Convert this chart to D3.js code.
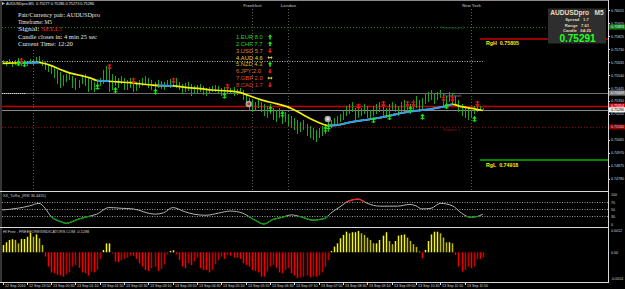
<!DOCTYPE html>
<html><head><meta charset="utf-8">
<script src="https://cdn.jsdelivr.net/npm/d3@7"></script>
<style>body{margin:0;background:#000}svg{display:block}</style>
</head><body>
<script>
// ---------------- DATA ----------------
const symbolTitle = "AUDUSDpro,M5  0.75277 0.75286 0.75273 0.75286";
const timeLabels = ["12 Sep 2016","12 Sep 23:50","13 Sep 00:30","13 Sep 01:10","13 Sep 01:50","13 Sep 02:30","13 Sep 03:10","13 Sep 03:50","13 Sep 04:30","13 Sep 05:10","13 Sep 05:50","13 Sep 06:30","13 Sep 07:10","13 Sep 07:50","13 Sep 08:30","13 Sep 09:10","13 Sep 09:50","13 Sep 10:30","13 Sep 11:10","13 Sep 11:50"];
const barsPerLabel = 8;
const priceTicks = [0.76015,0.75920,0.75825,0.75730,0.75635,0.75540,0.75445,0.75350,0.75255,0.75160,0.75065,0.74970,0.74875,0.74780];
const barHigh = [0.75651,0.75644,0.75658,0.75636,0.75651,0.75666,0.75644,0.75651,0.75636,0.75658,0.75651,
0.75673,0.75680,
0.75651,0.75636,0.75622,0.75607,0.75592,0.75578,0.75563,0.75541,0.75548,0.75563,0.75534,0.75519,0.75505,0.75534,0.75548,0.75519,0.75505,0.75490,
0.75505,0.75519,0.75578,0.75607,0.75592,0.75548,0.75534,0.75519,0.75534,0.75519,
0.75505,0.75519,0.75512,0.75490,0.75505,0.75519,0.75534,0.75519,0.75505,0.75490,0.75505,0.75497,0.75490,0.75505,0.75512,
0.75505,0.75519,0.75490,0.75475,0.75483,0.75490,0.75475,0.75461,0.75468,0.75475,0.75461,0.75446,0.75453,0.75461,0.75468,0.75461,0.75446,0.75453,0.75461,0.75446,0.75453,0.75439,0.75446,
0.75431,0.75402,0.75373,0.75358,0.75343,0.75358,0.75343,
0.75329,0.75314,0.75329,0.75299,0.75285,0.75299,0.75285,0.75270,0.75255,0.75241,0.75226,0.75211,0.75197,0.75211,0.75182,
0.75167,0.75153,0.75138,0.75153,0.75167,0.75182,0.75197,0.75211,
0.75226,0.75241,0.75255,0.75285,0.75314,0.75329,0.75343,
0.75299,0.75314,0.75299,0.75329,0.75314,0.75285,0.75314,0.75329,0.75343,0.75314,0.75299,0.75329,0.75343,0.75329,0.75314,0.75343,0.75358,0.75343,0.75329,0.75358,
0.75387,0.75358,0.75373,0.75402,0.75417,0.75431,0.75402,0.75417,0.75431,0.75402,0.75387,0.75417,0.75402,0.75387,0.75358,
0.75329,0.75314,0.75299,0.75285,0.75314,0.75329,0.75314,0.75299];
const barLow = [0.75622,0.75607,0.75629,0.75600,0.75614,0.75622,0.75607,0.75629,0.75607,0.75622,0.75614,
0.75636,0.75644,
0.75607,0.75578,0.75563,0.75548,0.75519,0.75475,0.75446,0.75461,0.75490,0.75505,0.75446,0.75431,0.75446,0.75475,0.75461,0.75417,0.75431,0.75417,
0.75446,0.75461,0.75475,0.75505,0.75417,0.75431,0.75461,0.75446,0.75475,0.75431,
0.75431,0.75446,0.75417,0.75424,0.75446,0.75461,0.75475,0.75446,0.75431,0.75417,0.75446,0.75439,0.75431,0.75453,0.75446,
0.75461,0.75446,0.75431,0.75402,0.75417,0.75424,0.75387,0.75402,0.75409,0.75417,0.75395,0.75387,0.75402,0.75417,0.75417,0.75402,0.75387,0.75395,0.75409,0.75402,0.75387,0.75395,0.75402,
0.75358,0.75329,0.75285,0.75270,0.75285,0.75299,0.75270,
0.75241,0.75226,0.75255,0.75211,0.75197,0.75226,0.75182,0.75197,0.75167,0.75153,0.75138,0.75109,0.75123,0.75138,0.75094,
0.75079,0.75065,0.75050,0.75079,0.75094,0.75109,0.75123,0.75153,
0.75167,0.75182,0.75197,0.75211,0.75241,0.75255,0.75270,
0.75211,0.75226,0.75241,0.75255,0.75226,0.75211,0.75241,0.75255,0.75270,0.75241,0.75226,0.75255,0.75285,0.75270,0.75241,0.75270,0.75285,0.75270,0.75255,0.75285,
0.75299,0.75270,0.75285,0.75329,0.75343,0.75358,0.75329,0.75358,0.75373,0.75314,0.75299,0.75343,0.75329,0.75314,0.75270,
0.75241,0.75226,0.75211,0.75226,0.75255,0.75270,0.75285,0.75277];
// moving average samples [bar, price]
const maBars   = [0,6,12,13,16,19,22,26,29,31,34,38,42,45,49,52,56,61,65,69,74,78,81,86,90,95,99,104,107,110,114,119,123,128,132,136,141,146,148,151,155,157,158];
const maValues = [0.75627,0.75631,0.75633,0.75629,0.75610,0.75581,0.75557,0.75536,0.75518,0.75501,0.75497,0.75490,0.75485,0.75477,0.75468,0.75463,0.75461,0.75448,0.75441,0.75431,0.75424,0.75414,0.75391,0.75353,0.75331,0.75296,0.75248,0.75193,0.75170,0.75173,0.75193,0.75211,0.75224,0.75246,0.75265,0.75279,0.75292,0.75314,0.75326,0.75309,0.75294,0.75285,0.75281];
const maRisingRanges = [[5,12],[31,35],[51,56],[107,148]];
// signal arrows [bar, price]
const sellArrows = [[6,0.75644],[35,0.75600],[43,0.75499],[56,0.75499],[74,0.75455],[117,0.75309],[125,0.75329],[133,0.75329],[135,0.75329],[145,0.75365],[148,0.75365],[156,0.75329]];
const buyArrows  = [[5,0.75629],[7,0.75622],[31,0.75455],[37,0.75431],[50,0.75419],[73,0.75390],[88,0.75292],[92,0.75255],[106,0.75145],[107,0.75162],[122,0.75211],[127,0.75233],[134,0.75292],[138,0.75236],[146,0.75314],[155,0.75219]];
const signalCircles = [[81,0.75329],[107,0.75219]];
// horizontal levels
const resistance1 = 0.75893, pivotLevel = 0.75409, redLevel = 0.75314, bidPrice = 0.75286, support1 = 0.75160, prevHigh = 0.75644;
const rangeHigh = 0.75805, rangeLow = 0.74918;
// sessions
const sessionBars = [10,82,94,154];
const sessionNames = ["","Frankfurt","London","New York"];
// info panel
const infoLines = ["Pair/Currency pair: AUDUSDpro","Timeframe: M5","Signal: ","Candle closes in: 4 min 25 sec","Current Time: 12:20"];
const infoWidths = [82,34,44,79,55];
const currencies = ["EUR","CHF","USD","AUD","NZD","JPY","GBP","CAD"];
const strength   = [8.0,7.7,5.7,4.6,4.3,2.0,2.0,1.7];
const direction  = ["up","up","down","flat","up","down","flat","down"];
const currColors = ["#22d622","#22d622","#d9884a","#e8d23a","#cdbb22","#e0662a","#e0502a","#e03a2a"];
const boxTitle = "AUDUSDpro   M5", boxSpread = "1.7", boxRange = "7.61", boxCandle = "04:25", boxPrice = "0.75291";
// RSI
const rsiLabel = "XX_TuRsi_(RSI 36.4455)";
const rsiBars   = [0,5,9,12,14,16,19,21,25,28,31,35,39,43,50,53,56,60,63,67,71,75,79,83,86,89,92,95,98,102,106,108,111,114,117,120,124,130,134,136,138,141,144,148,151,154,157,158];
const rsiValues = [48,53,60,67,53,29,15,10,22,29,36,55,53,51,36,40,55,43,36,33,39,45,39,19,8,21,27,34,29,19,24,39,57,74,79,67,59,59,64,60,51,53,67,60,39,27,32,36];
const rsiLevels = [70,50,30];
const rsiTickLabels = ["100","70","50","30","0"];
const rsiTickValues = [100,70,50,30,0];
// histogram (units of 0.00001)
const histLabel = "HI Free - FREEFOREXINDICATORS.COM -0.1288";
const histValues = [41,56,69,73,69,50,74,74,87,110,87,100,78,41,
-24,-80,-112,-117,-126,-130,-136,-123,-112,-80,-71,-86,-112,-117,-130,-108,-112,-99,-37,
13,50,50,-6,
-52,-56,-43,-37,-30,-19,-19,-37,-61,-80,-99,-104,-89,-80,-104,-93,-67,
-11,7,11,
-11,-43,-80,-89,-61,-71,-52,-30,-89,-99,-99,-112,
-99,-67,-43,-24,-37,-15,-19,-30,-30,-37,-61,-71,-80,-99,-104,-112,-136,-136,-108,-80,-71,-86,-112,-117,-99,-89,-117,-130,-145,-141,-136,-130,-141,-136,-136,-130,-112,-80,-43,
7,32,50,78,97,115,106,112,112,119,106,97,82,69,50,50,69,93,112,63,45,63,93,97,100,82,63,45,30,5,
-33,
13,63,100,115,115,106,82,56,56,50,
-15,-80,-108,-99,-80,-89,-80,-37,-37,-30];
const histTickValues = [120,0,-145];
const histTickLabels = ["0.0012","0.00","-0.0014"];

// ---------------- DRAW ----------------
const W=625,H=289, AX=608;
const svg = d3.select("body").append("svg").attr("width",W).attr("height",H)
  .style("font-family","'Liberation Sans',Arial,sans-serif");
svg.append("rect").attr("width",W).attr("height",H).attr("fill","#000");

const nBars = barHigh.length;
const x = d3.scaleLinear().domain([0,nBars-1]).range([2.5, 2.5+(nBars-1)*3.04]);
const yP = d3.scaleLinear().domain([rangeLow, rangeHigh]).range([160, 39]);
const yR = d3.scaleLinear().domain([0,100]).range([226.8,191.8]);
const yH = d3.scaleLinear().domain([0,120]).range([252.3,230.8]);

const main = svg.append("g");
function hline(g,y,x1,x2,color,w,dash){
  g.append("line").attr("x1",x1).attr("x2",x2).attr("y1",y).attr("y2",y)
   .attr("stroke",color).attr("stroke-width",w||1).attr("stroke-dasharray",dash||null);
}
// session separators
sessionBars.forEach((b,i)=>{
  const xx=Math.round(x(b))+0.5;
  main.append("line").attr("x1",xx).attr("x2",xx).attr("y1",i===0?50:9).attr("y2",190)
    .attr("stroke","#5a5a5a").attr("stroke-dasharray","1,2");
  if(sessionNames[i]) main.append("text").attr("x",xx).attr("y",6.5).attr("text-anchor","middle")
    .attr("font-size",4.2).attr("font-weight","bold").attr("fill","#9a9a9a").text(sessionNames[i]);
});
// levels
hline(main, yP(resistance1)+0.5, 2, AX, "#1f7a1f",1,"1,2");
hline(main, Math.round(yP(prevHigh))+0.5, 2, x(nBars-1), "#b8b8b8",1,"1,1.5");
hline(main, Math.round(yP(pivotLevel))+0.5, 2, AX, "#6e6e6e",1);
hline(main, Math.round(yP(pivotLevel))+0.5, 2, 25, "#e0e0e0",1,"1,1");
hline(main, Math.round(yP(redLevel))+0.5, 2, AX, "#c00000",1.3);
hline(main, Math.round(yP(bidPrice))+0.5, 2, AX, "#8c8c8c",1);
hline(main, Math.round(yP(support1))+0.5, 2, AX, "#8a0000",1,"1,2");
hline(main, yP(rangeHigh), x(nBars-2), AX, "#cc0000",1.5);
hline(main, yP(rangeLow), x(nBars-2), AX, "#00b000",1.5);
main.append("text").attr("x",441).attr("y",yP(resistance1)+2.5).attr("font-size",4).attr("fill","#1d6a1d").text("Resistance 1");
main.append("text").attr("x",443).attr("y",yP(pivotLevel)+4).attr("font-size",4).attr("fill","#8a8a8a").text("Pivot level");
main.append("text").attr("x",443).attr("y",yP(support1)+4).attr("font-size",4).attr("fill","#8a1010").text("Support 1");
main.append("text").attr("x",486).attr("y",yP(rangeHigh)+5.5).attr("font-size",5.3).attr("font-weight","bold").attr("fill","#f0f000").attr("xml:space","preserve").text("RgH  "+rangeHigh.toFixed(5));
main.append("text").attr("x",486).attr("y",yP(rangeLow)+6.5).attr("font-size",5.3).attr("font-weight","bold").attr("fill","#f0f000").attr("xml:space","preserve").text("RgL  "+rangeLow.toFixed(5));

// bars
main.append("g").selectAll("line").data(d3.range(nBars)).join("line")
  .attr("x1",i=>Math.round(x(i))+0.5).attr("x2",i=>Math.round(x(i))+0.5)
  .attr("y1",i=>yP(barHigh[i])).attr("y2",i=>yP(barLow[i]))
  .attr("stroke","#19a819").attr("stroke-width",1);

// MA line coloured
const maPts = maBars.map((b,i)=>[b,maValues[i]]);
const lineMA = d3.line().x(d=>x(d[0])).y(d=>yP(d[1])).curve(d3.curveMonotoneX);
const defs = svg.append("defs");
maRisingRanges.forEach((r,k)=>{
  defs.append("clipPath").attr("id","up"+k).append("rect").attr("x",x(r[0])).attr("y",0).attr("width",x(r[1])-x(r[0])).attr("height",190);
});
main.append("path").attr("d",lineMA(maPts)).attr("fill","none").attr("stroke","#f2f200").attr("stroke-width",1.7);
maRisingRanges.forEach((r,k)=>{
  main.append("path").attr("d",lineMA(maPts)).attr("fill","none").attr("stroke","#2d9cf0").attr("stroke-width",1.9).attr("clip-path","url(#up"+k+")");
});

// arrows
function arrow(g,cx,cy,dir,color){
  const s = dir==="down"?1:-1;
  g.append("path").attr("d",`M${cx},${cy-3*s}L${cx},${cy+1*s}`).attr("stroke",color).attr("stroke-width",1.3);
  g.append("path").attr("d",`M${cx-2.3},${cy+0.3*s}L${cx+2.3},${cy+0.3*s}L${cx},${cy+3.2*s}Z`).attr("fill",color);
  g.append("path").attr("d",`M${cx-2},${cy-1.8*s}L${cx+2},${cy-1.8*s}`).attr("stroke",color).attr("stroke-width",1);
}
sellArrows.forEach(d=>arrow(main,Math.round(x(d[0]))+0.5,yP(d[1]),"down","#e81818"));
buyArrows.forEach(d=>arrow(main,Math.round(x(d[0]))+0.5,yP(d[1]),"up","#19e619"));
signalCircles.forEach((d,i)=>{
  main.append("circle").attr("cx",x(d[0])).attr("cy",yP(d[1])).attr("r",3.2).attr("fill","#a8a8a8");
  main.append("circle").attr("cx",x(d[0])).attr("cy",yP(d[1])).attr("r",1.4).attr("fill",i===0?"#e02020":"#e8e8e8");
});

// title
svg.append("path").attr("d","M2,2L5,3.5L2,5Z").attr("fill","#c0c0c0");
svg.append("text").attr("x",6).attr("y",5.3).attr("font-size",3.8).attr("fill","#e8e8e8").attr("xml:space","preserve").text(symbolTitle);

// info block
const info = svg.append("g").style("font-family","'Liberation Serif','Times New Roman',serif").attr("font-size",7);
infoLines.forEach((t,i)=>{
  const tx = info.append("text").attr("x",18).attr("y",16.6+i*7.4).attr("fill","#e6e6e6")
    .attr("textLength",infoWidths[i]).attr("lengthAdjust","spacingAndGlyphs").text(t);
  if(i===2) tx.append("tspan").attr("fill","#ff2a2a").text("SELL!");
});

// currency strength
const cs = svg.append("g").attr("font-size",5.8);
currencies.forEach((c,i)=>{
  const yy = 39+i*6.85;
  cs.append("text").attr("x",236).attr("y",yy).attr("fill",currColors[i]).text(`${i+1}.${c} ${strength[i].toFixed(1)}`);
  const ax=270, ay=yy-2;
  if(direction[i]==="up"){
    cs.append("path").attr("d",`M${ax},${ay-2.6}L${ax+2.2},${ay-0.2}L${ax+0.8},${ay-0.2}L${ax+0.8},${ay+2.4}L${ax-0.8},${ay+2.4}L${ax-0.8},${ay-0.2}L${ax-2.2},${ay-0.2}Z`).attr("fill","#19e619");
  } else if(direction[i]==="down"){
    cs.append("path").attr("d",`M${ax},${ay+2.6}L${ax+2.2},${ay+0.2}L${ax+0.8},${ay+0.2}L${ax+0.8},${ay-2.4}L${ax-0.8},${ay-2.4}L${ax-0.8},${ay+0.2}L${ax-2.2},${ay+0.2}Z`).attr("fill","#e81818");
  } else {
    cs.append("path").attr("d",`M${ax-2.6},${ay}L${ax-1},${ay-1.6}L${ax-1},${ay+1.6}Z M${ax+2.6},${ay}L${ax+1},${ay-1.6}L${ax+1},${ay+1.6}Z M${ax-1},${ay-0.6}H${ax+1}V${ay+0.6}H${ax-1}Z`).attr("fill","#d8c840");
  }
});

// info box
const bx = svg.append("g");
bx.append("rect").attr("x",548).attr("y",8.5).attr("width",58).attr("height",35).attr("fill","#2e2e2e");
bx.append("text").attr("x",577).attr("y",15.3).attr("text-anchor","middle").attr("font-size",6.6).attr("font-weight","bold").attr("fill","#ecdcbc").attr("xml:space","preserve").text(boxTitle);
[["Spread",boxSpread],["Range",boxRange],["Candle",boxCandle]].forEach((r,i)=>{
  bx.append("text").attr("x",577).attr("y",21.4+i*5.3).attr("text-anchor","middle").attr("font-size",4.2).attr("font-weight","bold").attr("fill","#e6d6b6").attr("xml:space","preserve").text(r[0]+"   "+r[1]);
});
bx.append("text").attr("x",577.5).attr("y",42).attr("text-anchor","middle").attr("font-size",10).attr("font-weight","bold").attr("fill","#22ff22").text(boxPrice);

// RSI panel
const rp = svg.append("g");
rsiLevels.forEach(v=>hline(rp, Math.round(yR(v))+0.5, 2, AX, "#9a9a9a",1,"1,1.5"));
const rsiPts = rsiBars.map((b,i)=>[b,rsiValues[i]]);
const lineR = d3.line().x(d=>x(d[0])).y(d=>yR(d[1])).curve(d3.curveMonotoneX);
defs.append("clipPath").attr("id","rlow").append("rect").attr("x",0).attr("y",yR(31)).attr("width",AX).attr("height",40);
defs.append("clipPath").attr("id","rhigh").append("rect").attr("x",0).attr("y",185).attr("width",AX).attr("height",yR(70)-185);
rp.append("path").attr("d",lineR(rsiPts)).attr("fill","none").attr("stroke","#b4b4b4").attr("stroke-width",1);
rp.append("path").attr("d",lineR(rsiPts)).attr("fill","none").attr("stroke","#0a9a0a").attr("stroke-width",1.3).attr("clip-path","url(#rlow)");
rp.append("path").attr("d",lineR(rsiPts)).attr("fill","none").attr("stroke","#ff2222").attr("stroke-width",1.3).attr("clip-path","url(#rhigh)");
rp.append("text").attr("x",3).attr("y",197).attr("font-size",3.8).attr("fill","#d0d0d0").text(rsiLabel);
rsiTickValues.forEach((v,i)=>{
  rp.append("text").attr("x",611).attr("y",Math.min(225.5,Math.max(196,yR(v)+1.5))).attr("font-size",3.6).attr("fill","#d0d0d0").text(rsiTickLabels[i]);
});

// histogram panel: bright when growing in size, dimmer when shrinking
const hp = svg.append("g");
function histColor(d,i){
  const prev = i>0?histValues[i-1]:0;
  const growing = Math.abs(d) >= Math.abs(prev) || Math.sign(d)!==Math.sign(prev);
  if(d>=0) return growing?"#f8f800":"#bdbd00";
  return growing?"#f00000":"#c00000";
}
hp.append("g").selectAll("rect").data(histValues).join("rect")
  .attr("x",(d,i)=>Math.round(x(i))-0.25).attr("width",1.5)
  .attr("y",d=>d>=0?yH(d):yH(0)).attr("height",d=>Math.abs(yH(d)-yH(0)))
  .attr("fill",histColor);
hp.append("text").attr("x",3).attr("y",233).attr("font-size",3.8).attr("fill","#d0d0d0").text(histLabel);
histTickValues.forEach((v,i)=>{
  hp.append("text").attr("x",611).attr("y",yH(v)+1.5).attr("font-size",3.6).attr("fill","#d0d0d0").text(histTickLabels[i]);
});

// frame and separators
const fr = svg.append("g").attr("fill","none");
hline(fr,0.5,0,AX,"#8a8a8a",1);
fr.append("line").attr("x1",1).attr("x2",1).attr("y1",0).attr("y2",282).attr("stroke","#6a6a6a");
hline(fr,191.5,0,AX,"#d8d8d8",1);
hline(fr,227.5,0,AX,"#d8d8d8",1);
hline(fr,282.5,0,AX,"#d8d8d8",1);
fr.append("line").attr("x1",AX+0.5).attr("x2",AX+0.5).attr("y1",0).attr("y2",283).attr("stroke","#d8d8d8");

// price axis
priceTicks.forEach(p=>{
  svg.append("line").attr("x1",AX).attr("x2",AX+2).attr("y1",Math.round(yP(p))+0.5).attr("y2",Math.round(yP(p))+0.5).attr("stroke","#d8d8d8");
  svg.append("text").attr("x",611).attr("y",yP(p)+1.4).attr("font-size",3.6).attr("fill","#d8d8d8").text(p.toFixed(5));
});
function axisBox(p,bg,fg){
  const yy=yP(p);
  svg.append("rect").attr("x",AX+1).attr("y",yy-2.6).attr("width",16).attr("height",5.2).attr("fill",bg);
  svg.append("text").attr("x",611).attr("y",yy+1.4).attr("font-size",3.6).attr("fill",fg).text(p.toFixed(5));
}
axisBox(resistance1,"#137a13","#e0ffe0");
axisBox(pivotLevel,"#7c7c7c","#f0f0f0");
axisBox(redLevel,"#dd0000","#ffffff");
axisBox(bidPrice,"#f0f0f0","#000000");
axisBox(support1,"#8a0000","#f0d0d0");

// time axis
timeLabels.forEach((t,i)=>{
  const xx = Math.round(x(i*barsPerLabel))+0.5;
  svg.append("line").attr("x1",xx).attr("x2",xx).attr("y1",282).attr("y2",285).attr("stroke","#d8d8d8");
  svg.append("text").attr("x",xx+1.5).attr("y",287.3).attr("font-size",3.6).attr("fill","#d8d8d8").text(t);
});
</script>
</body></html>
